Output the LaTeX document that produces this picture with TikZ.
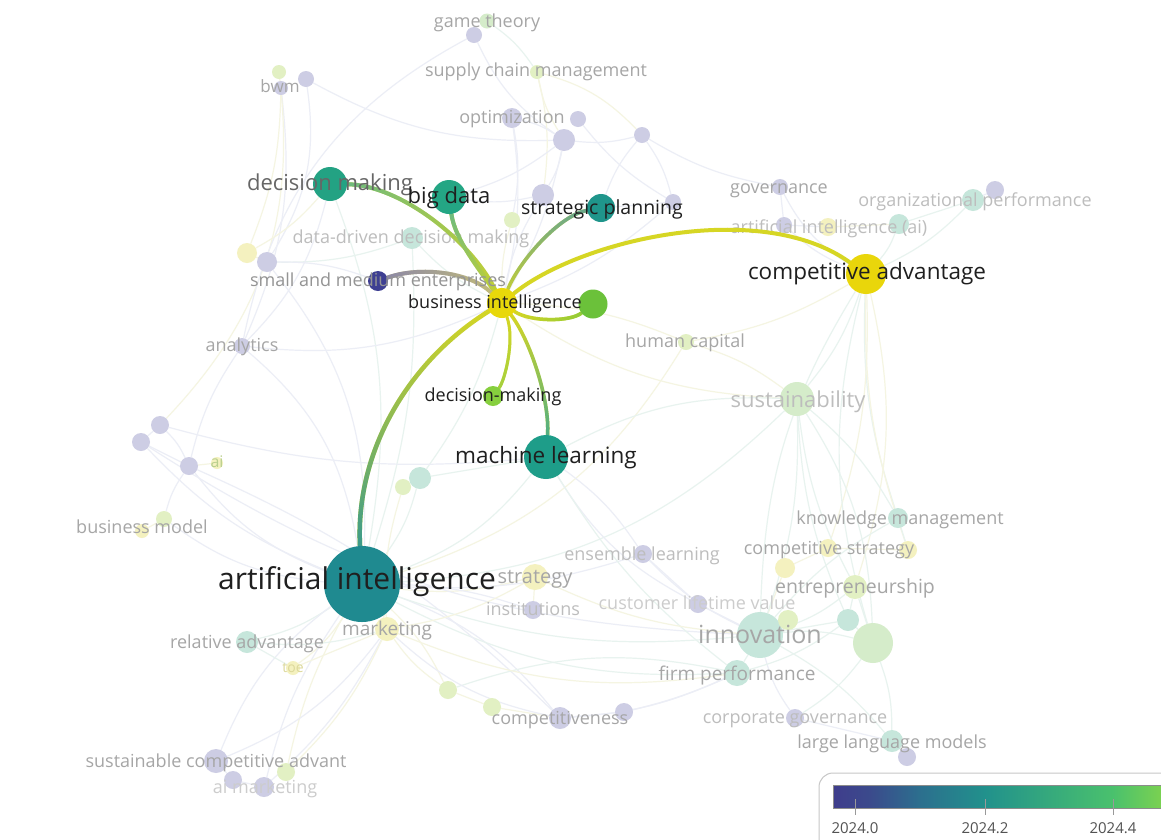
\documentclass[tikz,border=0pt]{standalone}
\usepackage{fontspec}
\setmainfont{Open Sans}
\usetikzlibrary{fadings}
\pgfdeclarelayer{bg}\pgfdeclarelayer{fe}\pgfdeclarelayer{fn}\pgfdeclarelayer{fl}\pgfdeclarelayer{he}
\pgfsetlayers{bg,fe,fn,fl,he,main}
\definecolor{fpur}{HTML}{CDCDE4}
\definecolor{fteal}{HTML}{C6E6DB}
\definecolor{fgreen}{HTML}{D5ECCA}
\definecolor{fyg}{HTML}{E2F0C3}
\definecolor{fylw}{HTML}{F4F1BF}
\definecolor{cAI}{HTML}{1F8A90}
\definecolor{cBI}{HTML}{E8D80A}
\definecolor{cCA}{HTML}{E9D60B}
\definecolor{cML}{HTML}{1E9D89}
\definecolor{cDM}{HTML}{23A283}
\definecolor{cBD}{HTML}{24A684}
\definecolor{cSP}{HTML}{1F958B}
\definecolor{cDMK}{HTML}{86CF3E}
\definecolor{cGRN}{HTML}{6BC13A}
\definecolor{cSME}{HTML}{3E3F92}
\definecolor{eY}{HTML}{D6D624}
\definecolor{eAI}{HTML}{3A9A8C}
\definecolor{eDM}{HTML}{6DBA80}
\definecolor{eBD}{HTML}{6CBB80}
\definecolor{eSP}{HTML}{6AA88C}
\definecolor{eSME}{HTML}{8D89A6}
\definecolor{eSMEy}{HTML}{C2BC7A}
\definecolor{eML}{HTML}{4FAE84}
\definecolor{eDMK}{HTML}{A2D040}
\definecolor{eGRN}{HTML}{90CB3A}
\definecolor{fe1}{HTML}{ECEEF6}
\definecolor{fe2}{HTML}{F5F5E2}
\definecolor{fe3}{HTML}{E8F3EF}
\definecolor{lg}{HTML}{A6A6A6}
\definecolor{lgl}{HTML}{BDBDBD}
\definecolor{lgll}{HTML}{CCCCCC}
\definecolor{lai}{HTML}{B9CF8E}
\definecolor{ltoe}{HTML}{DCD89A}
\definecolor{cb1}{HTML}{3F3D8C}
\definecolor{cb2}{HTML}{3B4A8C}
\definecolor{cb3}{HTML}{2C6F8E}
\definecolor{cb4}{HTML}{21918C}
\definecolor{cb5}{HTML}{4AC16D}
\definecolor{cb6}{HTML}{7AD151}
\tikzfading[name=fN, top color=transparent!0, bottom color=transparent!100]
\tikzfading[name=fS, top color=transparent!100, bottom color=transparent!0]
\tikzfading[name=fW, left color=transparent!0, right color=transparent!100]
\tikzfading[name=fE, left color=transparent!100, right color=transparent!0]
\newcommand\fsz[1]{\fontsize{#1}{#1}\selectfont}
\newcommand\vnode[5]{\node[vn, minimum size=#4pt, fill=#5] (#1) at (#2,#3) {};}
\newcommand\vlab[6]{\node[vl, font=\fsz{#4}, text=#5] (#1) at (#2,#3) {#6};}
\newcommand\gradedge[5]{\draw[hedge,line width=#5pt,#1] #4; \draw[hedge,line width=#5pt,#2,path fading=#3] #4;}
\begin{document}
\begin{tikzpicture}[x=1pt,y=-1pt,
  vn/.style={circle, inner sep=0pt, draw=none},
  vl/.style={inner sep=0pt, anchor=base},
  fedge/.style={line width=1.2pt, fe1},
  hedge/.style={line cap=round}]
\useasboundingbox (0,0) rectangle (1161,839);
\begin{pgfonlayer}{bg}
\fill[white] (0,0) rectangle (1161,839);
\end{pgfonlayer}

% ---------- faint nodes ----------
\begin{pgfonlayer}{fn}
\vnode{gta}{487}{21}{15}{fgreen}
\vnode{gtb}{474}{35}{16}{fpur}
\vnode{bwa}{279}{72}{14}{fyg}
\vnode{bwb}{306}{79}{16}{fpur}
\vnode{bwc}{281}{88}{14}{fpur}
\vnode{scm}{537}{72}{14}{fyg}
\vnode{opa}{512}{118}{20}{fpur}
\vnode{opb}{578}{119}{16}{fpur}
\vnode{opc}{564}{140}{22}{fpur}
\vnode{opd}{642}{135}{16}{fpur}
\vnode{pa}{543}{195}{22}{fpur}
\vnode{pb}{673}{202}{16}{fpur}
\vnode{ga}{512}{220}{16}{fyg}
\vnode{ddm}{412}{238}{22}{fteal}
\vnode{ya}{247}{253}{20}{fylw}
\vnode{pc}{267}{262}{20}{fpur}
\vnode{gov}{780}{187}{16}{fpur}
\vnode{aia}{784}{225}{16}{fpur}
\vnode{aib}{828}{227}{18}{fylw}
\vnode{aic}{899}{224}{20}{fteal}
\vnode{opfa}{973}{200}{22}{fteal}
\vnode{opfb}{995}{190}{18}{fpur}
\vnode{hc}{686}{342}{16}{fyg}
\vnode{ana}{242}{346}{16}{fpur}
\vnode{sus}{797}{399}{34}{fgreen}
\vnode{ma}{160}{425}{18}{fpur}
\vnode{mb}{141}{442}{18}{fpur}
\vnode{mc}{189}{466}{18}{fpur}
\vnode{aism}{217}{463}{12}{fylw}
\vnode{bma}{164}{519}{16}{fyg}
\vnode{bmb}{142}{531}{14}{fylw}
\vnode{ta}{420}{478}{22}{fteal}
\vnode{tb}{403}{487}{16}{fyg}
\vnode{km}{898}{518}{20}{fteal}
\vnode{csa}{828}{548}{18}{fylw}
\vnode{csb}{908}{550}{18}{fylw}
\vnode{csc}{785}{568}{20}{fylw}
\vnode{ent}{855}{587}{24}{fyg}
\vnode{clv}{698}{604}{18}{fpur}
\vnode{inn}{760}{635}{46}{fteal}
\vnode{gc}{788}{620}{20}{fyg}
\vnode{tc}{848}{620}{22}{fteal}
\vnode{gd}{873}{643}{40}{fgreen}
\vnode{fp}{737}{673}{26}{fteal}
\vnode{cg}{795}{718}{18}{fpur}
\vnode{llma}{892}{741}{22}{fteal}
\vnode{llmb}{907}{757}{18}{fpur}
\vnode{ens}{643}{554}{18}{fpur}
\vnode{str}{535}{577}{26}{fylw}
\vnode{inst}{533}{610}{18}{fpur}
\vnode{gee}{448}{690}{18}{fyg}
\vnode{gff}{492}{707}{18}{fyg}
\vnode{cma}{560}{718}{22}{fpur}
\vnode{cmb}{624}{712}{18}{fpur}
\vnode{mkt}{387}{629}{24}{fylw}
\vnode{ra}{247}{642}{22}{fteal}
\vnode{toe}{293}{668}{14}{fylw}
\vnode{sca}{216}{761}{24}{fpur}
\vnode{scb}{233}{780}{18}{fpur}
\vnode{scc}{264}{787}{20}{fpur}
\vnode{scd}{286}{772}{18}{fyg}
\end{pgfonlayer}

% ---------- highlighted nodes ----------
\node[vn, minimum size=76pt, fill=cAI] (AI) at (362,584) {};
\node[vn, minimum size=30pt, fill=cBI] (BI) at (502,303) {};
\node[vn, minimum size=40pt, fill=cCA] (CA) at (866,274) {};
\node[vn, minimum size=44pt, fill=cML] (ML) at (546,457) {};
\node[vn, minimum size=34pt, fill=cDM] (DM) at (330,184) {};
\node[vn, minimum size=34pt, fill=cBD] (BD) at (449,197) {};
\node[vn, minimum size=28pt, fill=cSP] (SP) at (601,208) {};
\node[vn, minimum size=20pt, fill=cSME] (SME) at (378,281) {};
\node[vn, minimum size=29pt, fill=cGRN] (GRN) at (593,304) {};
\node[vn, minimum size=20pt, fill=cDMK] (DMK) at (493,396) {};

% ---------- faint edges ----------
\begin{pgfonlayer}{fe}
\foreach \a/\b/\c/\col in {
 AI/mkt/10/fe2, AI/str/-10/fe2, AI/bma/15/fe1, AI/ana/-20/fe1, AI/mc/15/fe1,
 AI/ra/10/fe3, AI/toe/10/fe2, AI/sca/-15/fe1, AI/scc/-10/fe1, AI/cma/15/fe1,
 AI/inn/-12/fe3, AI/fp/-15/fe3, AI/ens/-10/fe1, AI/inst/8/fe1, AI/ta/-10/fe3,
 AI/ML/-15/fe3, AI/DM/-15/fe3, AI/ddm/-10/fe3, AI/pc/-20/fe1, AI/hc/-20/fe2,
 AI/sus/-20/fe3, AI/gee/10/fe2, AI/scd/-8/fe2, AI/mb/12/fe1,
 CA/sus/10/fe3, CA/km/-10/fe3, CA/ent/15/fe2, CA/aia/10/fe1, CA/aic/-10/fe3,
 CA/gov/15/fe1, CA/hc/10/fe2, CA/inn/-15/fe3, CA/csa/10/fe2, CA/opfa/-10/fe3,
 CA/gd/-15/fe3, CA/csb/-10/fe2,
 BI/ddm/10/fe3, BI/opa/-10/fe1, BI/pa/10/fe1, BI/ga/8/fe2, BI/hc/10/fe2,
 BI/opc/-8/fe1, BI/sus/-15/fe2, BI/ta/10/fe3, BI/pb/-10/fe1, BI/ana/15/fe1,
 bwb/pc/20/fe1, bwc/ana/15/fe1, bwa/ma/25/fe2, bwb/opc/-15/fe1, bwc/ya/10/fe2,
 gtb/opc/-15/fe1, gta/scm/10/fe3, scm/opc/-10/fe2, scm/pa/10/fe2, scm/opd/15/fe2,
 opa/opc/10/fe1, opc/opd/-10/fe1, opc/pa/10/fe1, opb/pb/-10/fe1, opd/pb/10/fe1,
 opa/ga/10/fe1, opc/BD/10/fe1, opd/gov/-10/fe1, gtb/ana/-25/fe1,
 ma/mb/0/fe1, mb/mc/0/fe1, ma/mc/10/fe1, mc/bma/-10/fe1, mc/aism/0/fe2,
 ma/ML/-10/fe1, mb/inn/-15/fe1, mc/cma/10/fe1, ana/mc/-10/fe1,
 inn/fp/0/fe3, inn/cg/-10/fe1, inn/llma/10/fe3, inn/tc/0/fe3, inn/gd/10/fe3,
 inn/clv/0/fe1, inn/ens/10/fe1, inn/csc/0/fe2, inn/km/10/fe3, inn/ent/-10/fe3,
 sus/km/10/fe3, sus/ent/-10/fe3, sus/gd/15/fe3, sus/inn/10/fe3, sus/tc/-10/fe3,
 gd/llma/10/fe3, gd/tc/0/fe3, gd/ent/0/fe3, tc/ent/0/fe3, gd/cg/10/fe3,
 fp/cma/10/fe1, fp/cmb/5/fe1, fp/gee/-15/fe3, fp/tc/-10/fe3, cma/cmb/0/fe1,
 gee/gff/0/fe2, gff/cma/0/fe2, mkt/gee/-10/fe2, mkt/cma/-15/fe1, mkt/fp/-15/fe2,
 sca/scb/0/fe1, scb/scc/0/fe1, sca/mkt/-15/fe1, scc/mkt/-10/fe1, scd/mkt/-10/fe2,
 ra/toe/0/fe3, ra/mkt/-10/fe3, toe/mkt/0/fe2, ML/ens/10/fe1, ML/clv/-15/fe1,
 ML/sus/15/fe3, ML/ta/0/fe3, ML/fp/-10/fe3, ens/clv/0/fe1, str/inst/0/fe2,
 str/mkt/10/fe2, str/inn/-10/fe2, ddm/pc/10/fe3, ya/pc/0/fe2, SME/pc/-10/fe1,
 aia/aib/0/fe1, aib/aic/0/fe2, aic/opfa/0/fe3, opfa/opfb/0/fe1, gov/aia/0/fe1,
 hc/sus/10/fe2, km/csb/0/fe3, csa/csc/0/fe2, csa/csb/0/fe2, llma/llmb/0/fe1,
 cg/llma/0/fe1, tb/ta/0/fe3, tb/mkt/-10/fe2, DM/ana/15/fe1, DM/ya/10/fe2,
 BD/pa/-10/fe1, SP/pb/0/fe1, SP/opd/10/fe1, bma/bmb/0/fe2}
 {\draw[fedge,\col] (\a) to[bend left=\c] (\b);}
\end{pgfonlayer}

% ---------- faint labels ----------
\begin{pgfonlayer}{fl}
\vlab{lgt}{487}{27}{18}{lg}{game theory}
\vlab{lbwm}{280}{92}{17}{lg}{bwm}
\vlab{lscm}{536}{76}{18}{lg}{supply chain management}
\vlab{lopt}{512}{123}{18}{lg}{optimization}
\vlab{lgov}{779}{193}{18}{lg}{governance}
\vlab{lopf}{975}{206}{18}{lgl}{organizational performance}
\vlab{lddm}{411}{243}{18}{lgl}{data-driven decision making}
\vlab{laia}{829}{233}{18}{lgl}{artificial intelligence (ai)}
\vlab{lhc}{685}{347}{18}{lg}{human capital}
\vlab{lana}{242}{351}{18}{lg}{analytics}
\vlab{lsus}{798}{407}{22}{lgl}{sustainability}
\vlab{laism}{217}{467}{16}{lai}{ai}
\vlab{lbm}{142}{533}{18}{lg}{business model}
\vlab{lkm}{900}{524}{18}{lg}{knowledge management}
\vlab{lcs}{829}{554}{18}{lg}{competitive strategy}
\vlab{lent}{855}{593}{19.5}{lg}{entrepreneurship}
\vlab{linn}{760}{643}{25}{lg}{innovation}
\vlab{lfp}{737}{680}{19}{lg}{firm performance}
\vlab{lcg}{795}{723}{18}{lgl}{corporate governance}
\vlab{lllm}{892}{748}{18}{lg}{large language models}
\vlab{lens}{642}{560}{18}{lgl}{ensemble learning}
\vlab{lstr}{535}{583}{20}{lg}{strategy}
\vlab{linst}{533}{615}{18}{lgl}{institutions}
\vlab{lclv}{697}{609}{18}{lgll}{customer lifetime value}
\vlab{lmkt}{387}{635}{19}{lg}{marketing}
\vlab{lra}{247}{648}{18}{lg}{relative advantage}
\vlab{ltoe}{293}{672}{14}{ltoe}{toe}
\vlab{lcmp}{560}{724}{18}{lg}{competitiveness}
\vlab{lsca}{216}{767}{18}{lg}{sustainable competitive advant}
\vlab{laim}{265}{793}{18}{lgll}{ai marketing}
\end{pgfonlayer}

% ---------- highlighted edges ----------
\begin{pgfonlayer}{he}
\draw[hedge, line width=4pt, eY] (BI) .. controls (580,240) and (760,198) .. (CA);
\gradedge{eY}{eAI}{fS}{(BI) .. controls (410,360) and (355,450) .. (AI)}{4.5}
\gradedge{eY!80!eDM}{eDM}{fW}{(BI) .. controls (470,240) and (400,185) .. (DM)}{4}
\gradedge{eY!80!eBD}{eBD}{fN}{(BI) .. controls (480,270) and (455,240) .. (BD)}{4}
\gradedge{eY!80!eSP}{eSP}{fN}{(BI) .. controls (520,260) and (560,215) .. (SP)}{3.5}
\gradedge{eSMEy}{eSME}{fW}{(BI) .. controls (470,272) and (420,266) .. (SME)}{4}
\gradedge{eY}{eGRN}{fE}{(BI) .. controls (530,322) and (570,322) .. (GRN)}{3.5}
\gradedge{eY}{eDMK}{fS}{(BI) .. controls (515,340) and (505,380) .. (DMK)}{3}
\gradedge{eY}{eML}{fS}{(BI) .. controls (530,340) and (550,400) .. (ML)}{3.5}
\end{pgfonlayer}

% ---------- highlighted labels ----------
\vlab{lAI}{357}{589}{30}{black!88}{artificial intelligence}
\vlab{lBI}{495}{308}{18}{black!88}{business intelligence}
\vlab{lCA}{867}{279}{22.5}{black!88}{competitive advantage}
\vlab{lML}{546}{463}{22.5}{black!88}{machine learning}
\vlab{lDM}{330}{190}{22}{black!60}{decision making}
\vlab{lBD}{449}{203}{22}{black!88}{big data}
\vlab{lSP}{602}{214}{19.5}{black!88}{strategic planning}
\vlab{lSME}{378}{286}{18}{black!42}{small and medium enterprises}
\vlab{lDMK}{493}{401}{18}{black!88}{decision-making}

% ---------- colour bar ----------
\draw[draw=black!22, fill=white, line width=1pt, rounded corners=14pt] (819,773) rectangle (1200,880);
\shade[left color=cb1, right color=cb2] (833,785) rectangle (870,808);
\shade[left color=cb2, right color=cb3] (869.5,785) rectangle (920,808);
\shade[left color=cb3, right color=cb4] (919.5,785) rectangle (985,808);
\shade[left color=cb4, right color=cb5] (984.5,785) rectangle (1113,808);
\shade[left color=cb5, right color=cb6] (1112.5,785) rectangle (1161,808);
\draw[black!45, line width=0.8pt] (833,785) rectangle (1175,808);
\foreach \x/\t in {855/2024.0, 985/2024.2, 1113/2024.4}{
  \draw[black!40, line width=1pt] (\x,799) -- (\x,815);
  \node[vl, font=\fsz{15}, text=black!68] (tick\x) at (\x,833) {\t};
}
\end{tikzpicture}
\end{document}
